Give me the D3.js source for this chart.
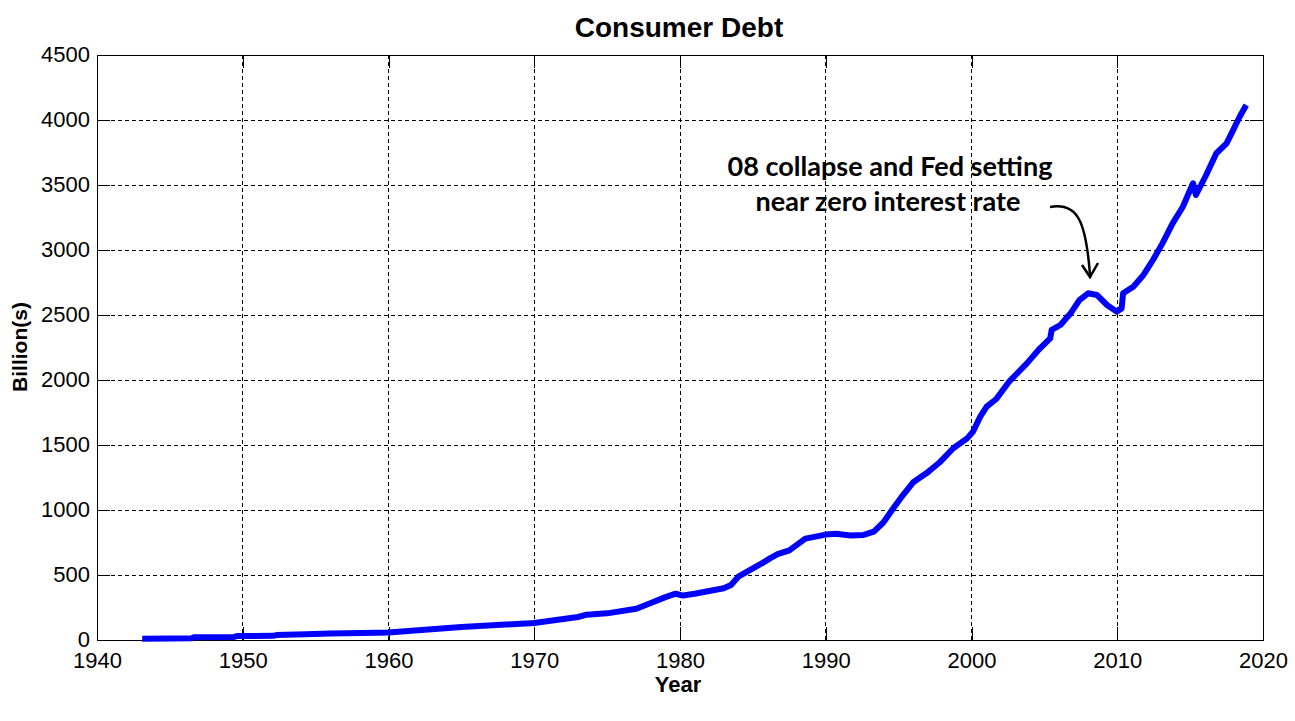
<!DOCTYPE html>
<html>
<head>
<meta charset="utf-8">
<script src="https://cdn.jsdelivr.net/npm/d3@7"></script>
<style>
  html, body { margin: 0; padding: 0; background: #fff; }
  svg { display: block; }
</style>
</head>
<body>
<svg id="chart" width="1295" height="721"></svg>
<script>
// ---- Data ----
const years = [1943.1, 1945, 1946.5, 1946.7, 1949.4, 1949.6, 1952.1, 1952.3, 1954.3, 1956, 1959.2, 1960,
  1965, 1970, 1973, 1973.6, 1975, 1977, 1978, 1979, 1979.7, 1980.2, 1981, 1982, 1983, 1983.5, 1984, 1985,
  1985.7, 1986.2, 1986.7, 1987.5, 1988.6, 1990, 1990.7, 1991.7, 1992.6, 1993.3, 1993.95, 1994.6, 1995.3,
  1996, 1996.9, 1997.8, 1998.75, 1999.7, 2000.1, 2000.6, 2001.04, 2001.7, 2002.6, 2003.8, 2004.7, 2005.4,
  2005.5, 2006.1, 2006.8, 2007.4, 2008.0, 2008.6, 2009.3, 2009.96, 2010.3, 2010.4, 2011.1, 2011.8, 2012.45,
  2013.1, 2013.8, 2014.5, 2015.2, 2015.4, 2016.1, 2016.8, 2017.5, 2017.9, 2018.4, 2018.85];
const debt = [9, 11, 13, 22, 24, 30, 32, 38, 44, 50, 55, 58,
  100, 131, 177, 195, 205, 240, 285, 330, 356, 342, 356, 377, 398, 423, 487, 551,
  595, 630, 660, 690, 780, 811, 818, 804, 808, 833, 904, 1008, 1115,
  1213, 1282, 1365, 1475, 1551, 1602, 1718, 1795, 1854, 1990, 2128, 2244, 2321,
  2385, 2423, 2513, 2615, 2667, 2654, 2577, 2526, 2551, 2667, 2718, 2808, 2923,
  3051, 3205, 3333, 3513, 3423, 3577, 3744, 3820, 3910, 4025, 4115];

const xTicks = [1940, 1950, 1960, 1970, 1980, 1990, 2000, 2010, 2020];
const yTicks = [0, 500, 1000, 1500, 2000, 2500, 3000, 3500, 4000, 4500];

const titleText = "Consumer Debt";
const xLabel = "Year";
const yLabel = "Billion(s)";
const noteLines = ["08 collapse and Fed setting", "near zero interest rate"];

// ---- Layout ----
const svg = d3.select("#chart");
const L = 97, R = 1263, T = 55, B = 640;
const x = d3.scaleLinear().domain([1940, 2020]).range([L, R]);
const y = d3.scaleLinear().domain([0, 4500]).range([B, T]);

const font = "Arial, 'Liberation Sans', sans-serif";

// grid
const grid = svg.append("g").attr("stroke", "#000").attr("stroke-width", 1)
  .attr("stroke-dasharray", "4,3").attr("shape-rendering", "crispEdges");
xTicks.slice(1, -1).forEach(t => {
  grid.append("line").attr("x1", x(t)).attr("x2", x(t)).attr("y1", T).attr("y2", B);
});
yTicks.slice(1, -1).forEach(t => {
  grid.append("line").attr("x1", L).attr("x2", R).attr("y1", y(t)).attr("y2", y(t));
});

// axes with inward ticks (MATLAB style)
const tl = 13;
const axB = svg.append("g").attr("transform", `translate(0,${B})`)
  .call(d3.axisBottom(x).tickValues(xTicks).tickFormat(d3.format("d")).tickSizeInner(-tl).tickSizeOuter(0).tickPadding(8));
const axT = svg.append("g").attr("transform", `translate(0,${T})`)
  .call(d3.axisTop(x).tickValues(xTicks).tickFormat("").tickSizeInner(-tl).tickSizeOuter(0));
const axL = svg.append("g").attr("transform", `translate(${L},0)`)
  .call(d3.axisLeft(y).tickValues(yTicks).tickFormat(d3.format("d")).tickSizeInner(-tl).tickSizeOuter(0).tickPadding(7));
const axR = svg.append("g").attr("transform", `translate(${R},0)`)
  .call(d3.axisRight(y).tickValues(yTicks).tickFormat("").tickSizeInner(-tl).tickSizeOuter(0));
[axB, axT, axL, axR].forEach(a => {
  a.select(".domain").remove();
  a.selectAll("line").attr("stroke", "#000").attr("stroke-width", 1).attr("shape-rendering", "crispEdges");
  a.selectAll("text").attr("fill", "#000").style("font-family", font).style("font-size", "22px");
});
axB.selectAll("text").attr("dy", "0.9em");
axL.selectAll("text").attr("dy", "0.3em");

// box
svg.append("rect").attr("x", L).attr("y", T).attr("width", R - L).attr("height", B - T)
  .attr("fill", "none").attr("stroke", "#000").attr("stroke-width", 1).attr("shape-rendering", "crispEdges");

// data line
const pts = years.map((yr, i) => [yr, debt[i]]);
svg.append("path").datum(pts)
  .attr("fill", "none").attr("stroke", "#0000ff").attr("stroke-width", 6)
  .attr("stroke-linejoin", "round").attr("stroke-linecap", "butt")
  .attr("d", d3.line().x(d => x(d[0])).y(d => y(d[1])));

// title & labels
svg.append("text").attr("x", 679).attr("y", 37).attr("text-anchor", "middle")
  .style("font-family", font).style("font-size", "28px").style("font-weight", "bold").text(titleText);
svg.append("text").attr("x", 678).attr("y", 692).attr("text-anchor", "middle")
  .style("font-family", font).style("font-size", "22px").style("font-weight", "bold").text(xLabel);
svg.append("text").attr("transform", "translate(27,347) rotate(-90)").attr("text-anchor", "middle")
  .style("font-family", font).style("font-size", "21px").style("font-weight", "bold").text(yLabel);

// annotation
const noteFont = "Lato, 'Open Sans', sans-serif";
const n1 = svg.append("text").attr("x", 890).attr("y", 176).attr("text-anchor", "middle")
  .style("font-family", noteFont).style("font-size", "25px").style("font-weight", "bold").text(noteLines[0]);
const n2 = svg.append("text").attr("x", 888).attr("y", 211).attr("text-anchor", "middle")
  .style("font-family", noteFont).style("font-size", "25px").style("font-weight", "bold").text(noteLines[1]);
// fit first line width to reference; use same size for both lines
const fs = 25 * 325 / n1.node().getComputedTextLength();
n1.style("font-size", fs.toFixed(2) + "px");
n2.style("font-size", fs.toFixed(2) + "px");

// arrow
svg.append("path").attr("d", "M1050,207 C1078,202 1086,222 1090,275")
  .attr("fill", "none").attr("stroke", "#000").attr("stroke-width", 2.5);
svg.append("path").attr("d", "M1082,265 L1090,277 L1098,263")
  .attr("fill", "none").attr("stroke", "#000").attr("stroke-width", 2.5).attr("stroke-linejoin", "miter");
</script>
</body>
</html>
